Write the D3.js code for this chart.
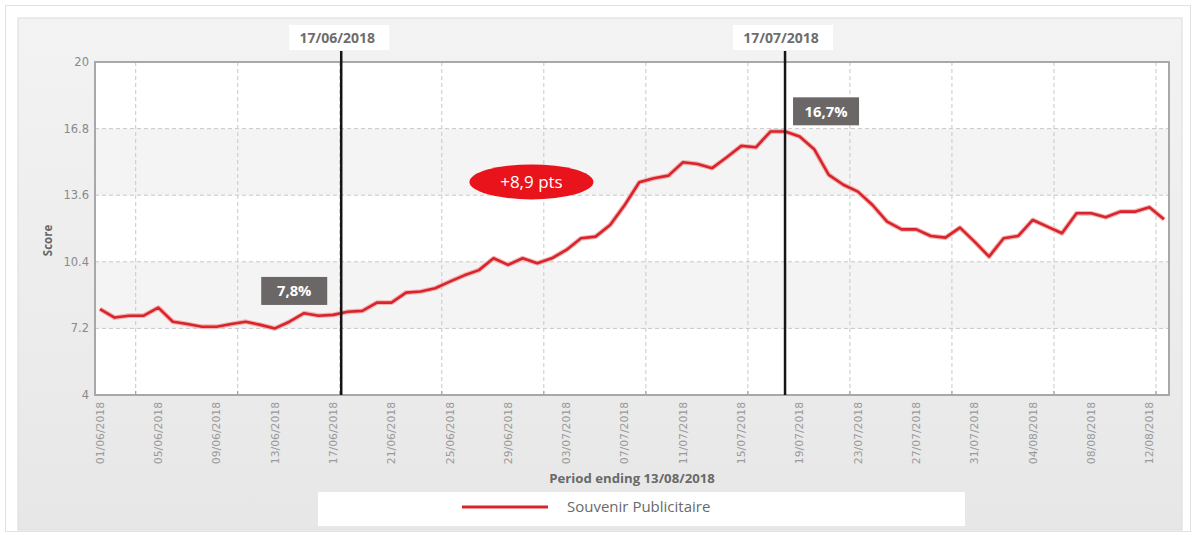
<!DOCTYPE html>
<html><head><meta charset="utf-8">
<script src="https://cdn.jsdelivr.net/npm/d3@7"></script>
<style>body{margin:0;background:#fff;} svg{display:block;}</style>
</head><body><svg id="chart" width="1196" height="535"></svg>
<script>
// ---- data ----
const startDay = "01/06/2018";
const values = [
  8.13, 7.72, 7.81, 7.81, 8.20, 7.52, 7.41, 7.28, 7.28, 7.41,
  7.52, 7.37, 7.20, 7.52, 7.93, 7.81, 7.85, 8.00, 8.04, 8.44,
  8.44, 8.92, 8.97, 9.13, 9.45, 9.75, 10.00, 10.57, 10.25, 10.57,
  10.33, 10.57, 10.97, 11.53, 11.61, 12.17, 13.13, 14.22, 14.41, 14.54,
  15.18, 15.10, 14.90, 15.42, 15.97, 15.90, 16.66, 16.66, 16.42, 15.81,
  14.58, 14.10, 13.77, 13.13, 12.33, 11.96, 11.96, 11.64, 11.56, 12.04,
  11.37, 10.65, 11.53, 11.64, 12.41, 12.09, 11.77, 12.73, 12.73, 12.54,
  12.81, 12.81, 13.02, 12.44
];
const yTicks = [4, 7.2, 10.4, 13.6, 16.8, 20];
const xTickLabels = ["01/06/2018","05/06/2018","09/06/2018","13/06/2018","17/06/2018",
  "21/06/2018","25/06/2018","29/06/2018","03/07/2018","07/07/2018","11/07/2018",
  "15/07/2018","19/07/2018","23/07/2018","27/07/2018","31/07/2018","04/08/2018",
  "08/08/2018","12/08/2018"];
const markerLabels = ["17/06/2018", "17/07/2018"];
const markerIndex = [16.55, 47];
const markerValues = ["7,8%", "16,7%"];
const deltaLabel = "+8,9 pts";
const seriesName = "Souvenir Publicitaire";
const xTitle = "Period ending 13/08/2018";
const yTitle = "Score";

// ---- layout ----
const svg = d3.select("#chart");
const plot = {l: 95, r: 1169, t: 62, b: 395};
const x = d3.scaleLinear().domain([0, values.length - 1]).range([100, 1164]);
const y = d3.scaleLinear().domain([4, 20]).range([plot.b, plot.t]);
const parse = d3.timeParse("%d/%m/%Y");
const t0 = parse(startDay);
const idxOf = lab => d3.timeDay.count(t0, parse(lab));

const defs = svg.append("defs");
const g1 = defs.append("linearGradient").attr("id", "panelGrad").attr("x1", 0).attr("y1", 0).attr("x2", 0).attr("y2", 1);
g1.append("stop").attr("offset", "0%").attr("stop-color", "#f3f3f3");
g1.append("stop").attr("offset", "100%").attr("stop-color", "#e7e7e7");

// outer frame and panel
svg.append("rect").attr("x", 5.5).attr("y", 5.5).attr("width", 1185).attr("height", 526)
  .attr("fill", "#fff").attr("stroke", "#e2e2e2");
svg.append("rect").attr("x", 18).attr("y", 18).attr("width", 1164).attr("height", 512)
  .attr("fill", "url(#panelGrad)").attr("stroke", "#dcdcdc");

// bands
const bands = d3.pairs(yTicks);
svg.append("g").selectAll("rect").data(bands).join("rect")
  .attr("x", plot.l).attr("width", plot.r - plot.l)
  .attr("y", d => y(d[1])).attr("height", d => y(d[0]) - y(d[1]))
  .attr("fill", (d, i) => i % 2 === 1 ? "#f4f4f4" : "#ffffff");

// horizontal grid
svg.append("g").selectAll("line").data(yTicks.slice(1, -1)).join("line")
  .attr("x1", plot.l).attr("x2", plot.r).attr("y1", d => y(d)).attr("y2", d => y(d))
  .attr("stroke", "#c8c8c8").attr("stroke-dasharray", "4,3").attr("stroke-width", 1);

// vertical grid (weekly)
const vGrid = d3.range(2.45, values.length, 7);
svg.append("g").selectAll("line").data(vGrid).join("line")
  .attr("x1", d => x(d)).attr("x2", d => x(d)).attr("y1", plot.t).attr("y2", plot.b)
  .attr("stroke", "#c8c8c8").attr("stroke-dasharray", "4,3").attr("stroke-width", 1);
svg.append("g").selectAll("line").data(vGrid).join("line")
  .attr("x1", d => x(d)).attr("x2", d => x(d)).attr("y1", plot.b - 4).attr("y2", plot.b)
  .attr("stroke", "#999");

// plot border
svg.append("rect").attr("x", plot.l).attr("y", plot.t).attr("width", plot.r - plot.l).attr("height", plot.b - plot.t)
  .attr("fill", "none").attr("stroke", "#a8a8a8").attr("stroke-width", 2);

// y axis labels
svg.append("g").selectAll("text").data(yTicks).join("text")
  .attr("x", 89).attr("y", d => y(d)).attr("dy", "0.35em")
  .attr("text-anchor", "end").attr("font-family", "DejaVu Sans").attr("font-size", 11.5)
  .attr("fill", "#8a8a8a").text(d => d);
svg.append("text").attr("transform", `translate(52,${(plot.t + plot.b) / 2 + 12}) rotate(-90)`)
  .attr("text-anchor", "middle").attr("font-family", "Open Sans").attr("font-weight", "bold")
  .attr("font-size", 11.5).attr("fill", "#666").text(yTitle);

// x tick labels
svg.append("g").selectAll("text").data(xTickLabels).join("text")
  .attr("transform", d => `translate(${x(idxOf(d))},402) rotate(-90)`)
  .attr("dy", "0.35em").attr("text-anchor", "end")
  .attr("font-family", "DejaVu Sans").attr("font-size", 10.8).attr("fill", "#9a9a9a")
  .text(d => d);
svg.append("text").attr("x", 632).attr("y", 483).attr("text-anchor", "middle")
  .attr("font-family", "Open Sans").attr("font-weight", "bold").attr("font-size", 13.2)
  .attr("fill", "#6a6a6a").text(xTitle);

// series line
const line = d3.line().x((d, i) => x(i)).y(d => y(d));
svg.append("path").datum(values).attr("d", line).attr("fill", "none")
  .attr("stroke", "#f2b3b3").attr("stroke-width", 4.8).attr("stroke-linejoin", "round");
svg.append("path").datum(values).attr("d", line).attr("fill", "none")
  .attr("stroke", "#d9242b").attr("stroke-width", 2.6).attr("stroke-linejoin", "round");

// markers
markerIndex.forEach((mi, k) => {
  const mx = x(mi);
  svg.append("rect").attr("x", mx - 52).attr("y", 25).attr("width", 100).attr("height", 25).attr("fill", "#fff");
  svg.append("text").attr("x", mx - 4).attr("y", 43).attr("text-anchor", "middle")
    .attr("font-family", "Open Sans").attr("font-weight", "bold").attr("font-size", 14)
    .attr("fill", "#6d6d6d").text(markerLabels[k]);
  svg.append("line").attr("x1", mx).attr("x2", mx).attr("y1", 51).attr("y2", plot.b)
    .attr("stroke", "#151515").attr("stroke-width", 2.5);
});

// value boxes
const boxes = [
  {cx: x(markerIndex[0]) - 47, cy: y(9.0), text: markerValues[0]},
  {cx: x(markerIndex[1]) + 41, cy: y(17.63), text: markerValues[1]}
];
boxes.forEach(b => {
  svg.append("rect").attr("x", b.cx - 33).attr("y", b.cy - 14).attr("width", 66).attr("height", 28)
    .attr("fill", "#6c6767");
  svg.append("text").attr("x", b.cx).attr("y", b.cy).attr("dy", "0.36em").attr("text-anchor", "middle")
    .attr("font-family", "Open Sans").attr("font-weight", "bold").attr("font-size", 14.8)
    .attr("fill", "#fff").text(b.text);
});

// delta ellipse
const ex = x(29.6), ey = y(14.24);
svg.append("ellipse").attr("cx", ex).attr("cy", ey).attr("rx", 62).attr("ry", 17.5).attr("fill", "#e8131b");
svg.append("text").attr("x", ex).attr("y", ey).attr("dy", "0.36em").attr("text-anchor", "middle")
  .attr("font-family", "Open Sans").attr("font-size", 17).attr("fill", "#fff").text(deltaLabel);

// legend
svg.append("rect").attr("x", 318).attr("y", 492).attr("width", 647).attr("height", 34).attr("fill", "#fff");
svg.append("line").attr("x1", 462).attr("x2", 548).attr("y1", 507).attr("y2", 507)
  .attr("stroke", "#d9242b").attr("stroke-width", 3);
svg.append("text").attr("x", 567).attr("y", 507).attr("dy", "0.35em")
  .attr("font-family", "Open Sans").attr("font-size", 15).attr("fill", "#6a6a6a").text(seriesName);
</script></body></html>
